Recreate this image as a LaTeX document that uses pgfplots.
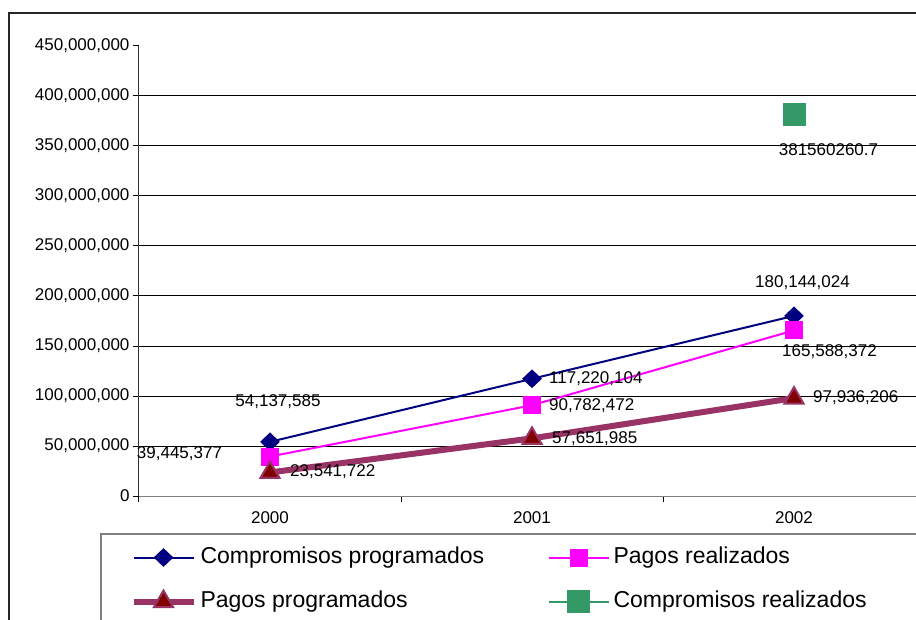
\documentclass[border=0pt]{standalone}
\usepackage{pgfplots}
\pgfplotsset{compat=1.18}
\usepackage{fontspec}
\setmainfont{Liberation Sans}
\definecolor{cnavy}{HTML}{000080}
\definecolor{cmag}{HTML}{FF00FF}
\definecolor{cplum}{HTML}{993366}
\definecolor{cmaroon}{HTML}{800000}
\definecolor{cgreen}{HTML}{339966}
\newcommand\lbl{\fontsize{17}{19}\selectfont}
\begin{document}
\begin{tikzpicture}[x=1pt,y=1pt]
\useasboundingbox (0,0) rectangle (916,619);
\clip (0,0) rectangle (916,619);
\fill[white] (0,0) rectangle (916,619);
\draw[line width=1.5pt, black!85] (9,-10) -- (9,606) -- (930,606);
\draw[line width=1.2pt, gray] (101,-10) -- (101,85) -- (930,85);
\begin{axis}[
  at={(139pt,123pt)}, anchor=south west,
  scale only axis, width=786pt, height=450pt,
  xmin=-0.5, xmax=2.5, ymin=0, ymax=450000000,
  clip=false,
  axis x line*=bottom, axis y line*=left,
  x axis line style={-, gray, line width=1pt},
  y axis line style={-, black!80, line width=1pt},
  xtick={-0.5,0.5,1.5,2.5}, xticklabels={},
  extra x ticks={0,1,2}, extra x tick labels={2000,2001,2002},
  extra x tick style={major tick length=0pt, xticklabel style={yshift=-12pt}},
  ytick={50000000,100000000,150000000,200000000,250000000,300000000,350000000,400000000},
  extra y ticks={0,450000000},
  extra y tick style={grid=none},
  ymajorgrids, grid style={black, line width=1pt},
  tick align=outside, major tick length=6pt, tick style={black, line width=1pt},
  scaled y ticks=false,
  /pgf/number format/fixed, /pgf/number format/1000 sep={,},
  /pgf/number format/assume math mode=true,
  ticklabel style={font=\lbl},
  legend columns=2,
  legend cell align=left,
  legend style={draw=none, fill=none, at={(axis description cs:-0.01081,-0.18556)}, anchor=west,
    inner sep=0pt, outer sep=0pt, font=\fontsize{23}{26}\selectfont, row sep=22pt,
    nodes={inner sep=0pt, text height=17pt, text depth=5pt},
    /tikz/every odd column/.style={column sep=4pt},
    /tikz/every even column/.style={column sep=63.3pt}},
  legend image code/.code={\draw[mark repeat=2,mark phase=2,#1] plot coordinates {(0pt,0pt) (30pt,0pt) (60pt,0pt)};},
]
\addplot[cnavy, line width=2pt, mark=diamond*, mark size=8pt, mark options={xscale=1.4, fill=cnavy}] coordinates {(0,54137585) (1,117220104) (2,180144024)};
\addplot[cmag, line width=2pt, mark=square*, mark size=8pt, mark options={fill=cmag}] coordinates {(0,39445377) (1,90782472) (2,165588372)};
\addplot[cplum, line width=6pt, mark=triangle*, mark size=11pt, mark options={fill=cmaroon, draw=cplum, line width=2pt}] coordinates {(0,23541722) (1,57651985) (2,97936206)};
\addplot[cgreen, line width=2pt, mark=square*, mark size=10.5pt, mark options={fill=cgreen}] coordinates {(2,381560260.7)};
\legend{Compromisos programados, Pagos realizados, Pagos programados, Compromisos realizados}
\node[anchor=base, font=\lbl, inner sep=0pt, xshift=8pt, yshift=35pt] at (axis cs:0,54137585) {54,137,585};
\node[anchor=base west, font=\lbl, inner sep=0pt, xshift=17pt, yshift=-5pt] at (axis cs:1,117220104) {117,220,104};
\node[anchor=base, font=\lbl, inner sep=0pt, xshift=8.5pt, yshift=28pt] at (axis cs:2,180144024) {180,144,024};
\node[anchor=base, font=\lbl, inner sep=0pt, xshift=-90.5pt, yshift=-2.4pt] at (axis cs:0,39445377) {39,445,377};
\node[anchor=base west, font=\lbl, inner sep=0pt, xshift=17pt, yshift=-4.8pt] at (axis cs:1,90782472) {90,782,472};
\node[anchor=base, font=\lbl, inner sep=0pt, xshift=35.5pt, yshift=-25.6pt] at (axis cs:2,165588372) {165,588,372};
\node[anchor=base west, font=\lbl, inner sep=0pt, xshift=20pt, yshift=-4.5pt] at (axis cs:0,23541722) {23,541,722};
\node[anchor=base west, font=\lbl, inner sep=0pt, xshift=20pt, yshift=-4.7pt] at (axis cs:1,57651985) {57,651,985};
\node[anchor=base west, font=\lbl, inner sep=0pt, xshift=19pt, yshift=-4.9pt] at (axis cs:2,97936206) {97,936,206};
\node[anchor=base, font=\lbl, inner sep=0pt, xshift=34.5pt, yshift=-40.6pt] at (axis cs:2,381560260.7) {381560260.7};
\end{axis}
\end{tikzpicture}
\end{document}
